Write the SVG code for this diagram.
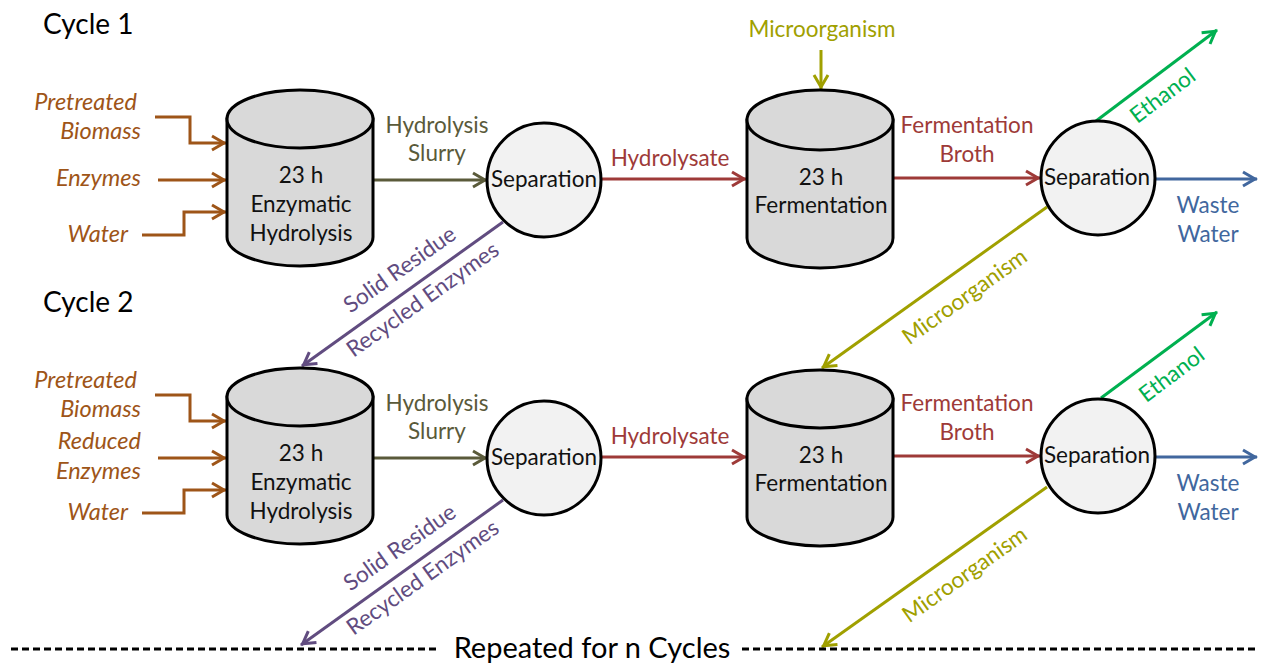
<svg xmlns="http://www.w3.org/2000/svg" width="1262" height="663" viewBox="0 0 1262 663">
<defs>
<style>
text{font-family:Lato,"Open Sans","Liberation Sans",sans-serif;font-size:22.5px;text-anchor:middle}
.tit{font-size:28px;text-anchor:start;fill:#000}
.in{font-style:italic;font-size:23.5px;fill:#9E5518;text-anchor:end}
.blk{fill:#111}
.cyl{fill:#D9D9D9;stroke:#000;stroke-width:3}
.sep{fill:#F2F2F2;stroke:#000;stroke-width:3}
.ln{fill:none;stroke-width:3}
.br{stroke:#9E5518;marker-end:url(#mBr)}
.ol{stroke:#5A5A3A;marker-end:url(#mOl)}
.rd{stroke:#9E3A38;marker-end:url(#mRd)}
.yl{stroke:#A0A000;marker-end:url(#mYl)}
.gr{stroke:#00B050;marker-end:url(#mGr)}
.bl{stroke:#41679E;marker-end:url(#mBl)}
.pu{stroke:#614C80;marker-end:url(#mPu)}
.dash{stroke:#000;stroke-width:3;stroke-dasharray:7 4;fill:none}
</style>
<marker id="mBr" viewBox="-16 -10 20 20" markerWidth="20" markerHeight="20" refX="2" refY="0" orient="auto" markerUnits="userSpaceOnUse"><path d="M-12,-7 L0,0 L-12,7" fill="none" stroke="#9E5518" stroke-width="3"/></marker>
<marker id="mOl" viewBox="-16 -10 20 20" markerWidth="20" markerHeight="20" refX="2" refY="0" orient="auto" markerUnits="userSpaceOnUse"><path d="M-12,-7 L0,0 L-12,7" fill="none" stroke="#5A5A3A" stroke-width="3"/></marker>
<marker id="mRd" viewBox="-16 -10 20 20" markerWidth="20" markerHeight="20" refX="2" refY="0" orient="auto" markerUnits="userSpaceOnUse"><path d="M-12,-7 L0,0 L-12,7" fill="none" stroke="#9E3A38" stroke-width="3"/></marker>
<marker id="mYl" viewBox="-16 -10 20 20" markerWidth="20" markerHeight="20" refX="2" refY="0" orient="auto" markerUnits="userSpaceOnUse"><path d="M-12,-7 L0,0 L-12,7" fill="none" stroke="#A0A000" stroke-width="3"/></marker>
<marker id="mGr" viewBox="-16 -10 20 20" markerWidth="20" markerHeight="20" refX="2" refY="0" orient="auto" markerUnits="userSpaceOnUse"><path d="M-12,-7 L0,0 L-12,7" fill="none" stroke="#00B050" stroke-width="3"/></marker>
<marker id="mBl" viewBox="-16 -10 20 20" markerWidth="20" markerHeight="20" refX="2" refY="0" orient="auto" markerUnits="userSpaceOnUse"><path d="M-12,-7 L0,0 L-12,7" fill="none" stroke="#41679E" stroke-width="3"/></marker>
<marker id="mPu" viewBox="-16 -10 20 20" markerWidth="20" markerHeight="20" refX="2" refY="0" orient="auto" markerUnits="userSpaceOnUse"><path d="M-12,-7 L0,0 L-12,7" fill="none" stroke="#614C80" stroke-width="3"/></marker>
</defs>
<rect width="1262" height="663" fill="#fff"/>

<text class="tit" x="43" y="34">Cycle 1</text>
<text class="tit" x="43" y="312">Cycle 2</text>

<!-- connectors -->
<g id="connectors">
<!-- cycle 1 -->
<path class="ln br" d="M155,117 H190 V143 H226"/>
<path class="ln br" d="M158,180 H226"/>
<path class="ln br" d="M142,235 H184 V212 H226"/>
<path class="ln ol" d="M373,180 H487"/>
<path class="ln rd" d="M601,179 H746"/>
<path class="ln rd" d="M893,178 H1040"/>
<path class="ln yl" d="M821,50 V89"/>
<path class="ln gr" d="M1096,121 L1217,30"/>
<path class="ln bl" d="M1155,179 H1257"/>
<path class="ln pu" d="M503,222 L302,366"/>
<path class="ln yl" d="M1047,207 L822,368"/>
<!-- cycle 2 -->
<path class="ln br" d="M155,395 H190 V421 H226"/>
<path class="ln br" d="M158,458 H226"/>
<path class="ln br" d="M142,513 H184 V490 H226"/>
<path class="ln ol" d="M373,458 H487"/>
<path class="ln rd" d="M601,457 H746"/>
<path class="ln rd" d="M893,456 H1040"/>
<path class="ln gr" d="M1101,398 L1217,312"/>
<path class="ln bl" d="M1155,457 H1257"/>
<path class="ln pu" d="M503,500 L301,645"/>
<path class="ln yl" d="M1047,487 L822,647"/>
<!-- repeat line -->
<path class="dash" d="M11,649 H440"/>
<path class="dash" d="M742,649 H1258"/>
</g>

<!-- labels -->
<g id="labels">
<text class="in" x="137" y="110">Pretreated</text>
<text class="in" x="141" y="139">Biomass</text>
<text class="in" x="141" y="186">Enzymes</text>
<text class="in" x="128" y="242">Water</text>
<text x="437" y="133" fill="#5A5A3A">Hydrolysis</text>
<text x="437" y="161" fill="#5A5A3A">Slurry</text>
<text x="670" y="166" fill="#9E3A38">Hydrolysate</text>
<text x="967" y="133" fill="#9E3A38">Fermentation</text>
<text x="967" y="162" fill="#9E3A38">Broth</text>
<text x="822" y="37" fill="#A0A000">Microorganism</text>
<text x="1208" y="213" fill="#41679E">Waste</text>
<text x="1208" y="242" fill="#41679E">Water</text>
<text transform="translate(1163,96) rotate(-37)" y="7" fill="#00B050">Ethanol</text>
<text transform="translate(400,270) rotate(-35.4)" y="7" fill="#614C80">Solid Residue</text>
<text transform="translate(423,300) rotate(-35.4)" y="7" fill="#614C80">Recycled Enzymes</text>
<text transform="translate(965,297) rotate(-35.6)" y="7" fill="#A0A000">Microorganism</text>

<text class="in" x="137" y="388">Pretreated</text>
<text class="in" x="141" y="417">Biomass</text>
<text class="in" x="141" y="449">Reduced</text>
<text class="in" x="141" y="479">Enzymes</text>
<text class="in" x="128" y="520">Water</text>
<text x="437" y="411" fill="#5A5A3A">Hydrolysis</text>
<text x="437" y="439" fill="#5A5A3A">Slurry</text>
<text x="670" y="444" fill="#9E3A38">Hydrolysate</text>
<text x="967" y="411" fill="#9E3A38">Fermentation</text>
<text x="967" y="440" fill="#9E3A38">Broth</text>
<text x="1208" y="491" fill="#41679E">Waste</text>
<text x="1208" y="520" fill="#41679E">Water</text>
<text transform="translate(1172,375) rotate(-37)" y="7" fill="#00B050">Ethanol</text>
<text transform="translate(400,548) rotate(-35.4)" y="7" fill="#614C80">Solid Residue</text>
<text transform="translate(423,578) rotate(-35.4)" y="7" fill="#614C80">Recycled Enzymes</text>
<text transform="translate(965,575) rotate(-35.6)" y="7" fill="#A0A000">Microorganism</text>

<text x="592" y="658" style="font-size:29px" fill="#000">Repeated for n Cycles</text>
</g>

<!-- nodes -->
<g id="hydrolysis1">
<path class="cyl" d="M227,119 V237 A73,29 0 0 0 373,237 V119 Z"/>
<ellipse class="cyl" cx="300" cy="119" rx="73" ry="29"/>
<text class="blk" x="301" y="183">23 h</text>
<text class="blk" x="301" y="212">Enzymatic</text>
<text class="blk" x="301" y="241">Hydrolysis</text>
</g>
<g id="separation1a">
<circle class="sep" cx="544" cy="180" r="57"/>
<text class="blk" x="544" y="187">Separation</text>
</g>
<g id="fermentation1">
<path class="cyl" d="M747,120 V238 A73,30 0 0 0 893,238 V120 Z"/>
<ellipse class="cyl" cx="820" cy="120" rx="73" ry="30"/>
<text class="blk" x="821" y="185">23 h</text>
<text class="blk" x="821" y="213">Fermentation</text>
</g>
<g id="separation1b">
<circle class="sep" cx="1098" cy="178" r="57"/>
<text class="blk" x="1097" y="185">Separation</text>
</g>

<g id="hydrolysis2">
<path class="cyl" d="M227,397 V515 A73,29 0 0 0 373,515 V397 Z"/>
<ellipse class="cyl" cx="300" cy="397" rx="73" ry="29"/>
<text class="blk" x="301" y="461">23 h</text>
<text class="blk" x="301" y="490">Enzymatic</text>
<text class="blk" x="301" y="519">Hydrolysis</text>
</g>
<g id="separation2a">
<circle class="sep" cx="544" cy="458" r="57"/>
<text class="blk" x="544" y="465">Separation</text>
</g>
<g id="fermentation2">
<path class="cyl" d="M747,399 V517 A73,29 0 0 0 893,517 V399 Z"/>
<ellipse class="cyl" cx="820" cy="399" rx="73" ry="29"/>
<text class="blk" x="821" y="463">23 h</text>
<text class="blk" x="821" y="491">Fermentation</text>
</g>
<g id="separation2b">
<circle class="sep" cx="1098" cy="456" r="57"/>
<text class="blk" x="1097" y="463">Separation</text>
</g>
</svg>
